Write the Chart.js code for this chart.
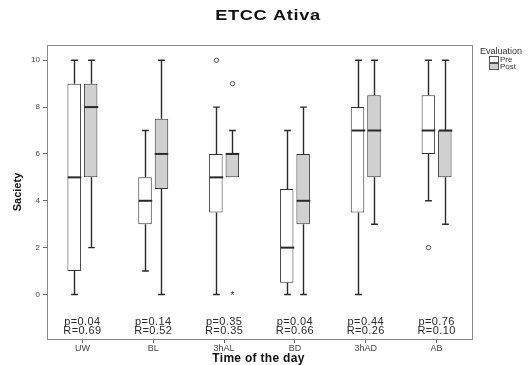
<!DOCTYPE html>
<html>
<head>
<meta charset="utf-8">
<script src="https://cdn.jsdelivr.net/npm/chart.js@4/dist/chart.umd.min.js"></script>
<style>
body{margin:0;background:#fff}
#wrap{width:528px;height:365px;position:relative}
</style>
</head>
<body>
<div id="wrap"><canvas id="myChart"></canvas></div>
<script>
var times=['UW','BL','3hAL','BD','3hAD','AB'];
// each box: [min, q1, median, q3, max]
var pre=[[0,1,5,9,10],[1,3,4,5,7],[0,3.5,5,6,8],[0,0.5,2,4.5,7],[0,3.5,7,8,10],[4,6,7,8.5,10]];
var post=[[2,5,8,9,10],[0,4.5,6,7.5,10],[5,5,6,6,7],[0,3,4,6,8],[3,5,7,8.5,10],[3,5,7,7,10]];
var preOut=[[],[],[10],[],[],[2]];
var postOut=[[],[],[9],[],[],[]];
var preExtreme=[[],[],[],[],[],[]];
var postExtreme=[[],[],[0],[],[],[]];
var pVal=['0.04','0.14','0.35','0.04','0.44','0.76'];
var rVal=['0.69','0.52','0.35','0.66','0.26','0.10'];
var yTicks=[0,2,4,6,8,10];

var FONT='"Liberation Sans", Arial, sans-serif';
var boxes=[pre,post];
var outs=[preOut,postOut];
var extremes=[preExtreme,postExtreme];

var boxPlot={
  id:'boxPlot',
  afterDatasetsDraw:function(chart){
    var ctx=chart.ctx, y=chart.scales.y, ca=chart.chartArea;
    ctx.save();
    for(var d=0;d<2;d++){
      var meta=chart.getDatasetMeta(d);
      for(var j=0;j<times.length;j++){
        var el=meta.data[j], b=boxes[d][j];
        var x=Math.round(el.x)+0.5, w=el.width;
        ctx.strokeStyle='#2a2a2a';
        ctx.lineWidth=1.4;
        ctx.beginPath();
        if(b[4]>b[3]){
          ctx.moveTo(x,y.getPixelForValue(b[3]));ctx.lineTo(x,y.getPixelForValue(b[4]));
          ctx.moveTo(x-w/4,y.getPixelForValue(b[4]));ctx.lineTo(x+w/4,y.getPixelForValue(b[4]));
        }
        if(b[0]<b[1]){
          ctx.moveTo(x,y.getPixelForValue(b[1]));ctx.lineTo(x,y.getPixelForValue(b[0]));
          ctx.moveTo(x-w/4,y.getPixelForValue(b[0]));ctx.lineTo(x+w/4,y.getPixelForValue(b[0]));
        }
        ctx.stroke();
        ctx.lineWidth=2;
        ctx.beginPath();
        ctx.moveTo(x-w/2,y.getPixelForValue(b[2]));ctx.lineTo(x+w/2,y.getPixelForValue(b[2]));
        ctx.stroke();
        ctx.lineWidth=1;
        ctx.strokeStyle='#555';
        outs[d][j].forEach(function(v){
          ctx.beginPath();ctx.arc(x,y.getPixelForValue(v),2.2,0,Math.PI*2);ctx.stroke();
        });
        ctx.fillStyle='#333';
        ctx.font='10px '+FONT;
        ctx.textAlign='center';ctx.textBaseline='middle';
        extremes[d][j].forEach(function(v){
          ctx.fillText('*',x,y.getPixelForValue(v)+2);
        });
      }
    }
    // p and R labels
    var xs=chart.scales.x;
    ctx.fillStyle='#2a2a2a';
    ctx.font='11px '+FONT;
    ctx.letterSpacing='0.4px';
    ctx.textAlign='center';ctx.textBaseline='middle';
    for(var k=0;k<times.length;k++){
      var cx=xs.getPixelForValue(k);
      ctx.fillText('p='+pVal[k],cx,322);
      ctx.fillText('R='+rVal[k],cx,331);
    }
    ctx.letterSpacing='0px';
    // frame
    ctx.strokeStyle='#888';ctx.lineWidth=1;
    ctx.strokeRect(Math.round(ca.left)+0.5,Math.round(ca.top)+0.5,Math.round(ca.right-ca.left),Math.round(ca.bottom-ca.top));
    // title, drawn wide like the original
    ctx.save();
    ctx.fillStyle='#111';
    ctx.font='bold 14px '+FONT;
    ctx.letterSpacing='0.5px';
    ctx.textAlign='center';
    ctx.translate(268,16);
    ctx.scale(1.3,1);
    ctx.fillText('ETCC Ativa',0,0);
    ctx.restore();
    ctx.letterSpacing='0.3px';
    ctx.fillStyle='#111';
    ctx.font='bold 12px '+FONT;
    ctx.fillText('Time of the day',(ca.left+ca.right)/2-1,359);
    ctx.letterSpacing='0px';
    // legend
    ctx.font='9px '+FONT;
    ctx.textAlign='left';
    ctx.fillStyle='#333';
    ctx.fillText('Evaluation',480,52);
    var cols=[chart.data.datasets[0].backgroundColor,chart.data.datasets[1].backgroundColor];
    for(var m=0;m<2;m++){
      var ly=56+m*7;
      ctx.fillStyle=cols[m];
      ctx.fillRect(489.5,ly+0.5,9,6);
      ctx.strokeStyle='#555';
      ctx.strokeRect(489.5,ly+0.5,9,6);
      ctx.fillStyle='#333';
      ctx.font='8px '+FONT;
      ctx.fillText(chart.data.datasets[m].label,500,ly+4);
    }
    ctx.restore();
  }
};

var ctx=document.getElementById('myChart').getContext('2d');
var chart=new Chart(ctx,{
  type:'bar',
  data:{
    labels:times,
    datasets:[{
      label:'Pre',
      data:pre.map(function(b){return [b[1],b[3]];}),
      backgroundColor:'#ffffff',
      borderColor:'#333',
      borderWidth:1,
      borderSkipped:false,
      categoryPercentage:0.465,
      barPercentage:0.82
    },{
      label:'Post',
      data:post.map(function(b){return [b[1],b[3]];}),
      backgroundColor:'#d0d0d0',
      borderColor:'#333',
      borderWidth:1,
      borderSkipped:false,
      categoryPercentage:0.465,
      barPercentage:0.82
    }]
  },
  options:{
    responsive:true,
    maintainAspectRatio:false,
    animation:false,
    layout:{padding:{left:0,right:56,top:45,bottom:0}},
    plugins:{legend:{display:false},tooltip:{enabled:false},title:{display:false}},
    scales:{
      x:{
        grid:{display:true,drawOnChartArea:false,drawTicks:true,tickLength:4,offset:false,color:'#666'},
        border:{display:true,color:'#888'},
        ticks:{font:{size:9,family:FONT},color:'#444',padding:0},
        afterFit:function(s){s.height=26;}
      },
      y:{
        min:-1.9,max:10.65,
        afterBuildTicks:function(s){s.ticks=yTicks.map(function(v){return {value:v};});},
        grid:{display:true,drawOnChartArea:false,drawTicks:true,tickLength:4,color:'#666'},
        border:{display:true,color:'#888'},
        ticks:{font:{size:8,family:FONT},color:'#444',padding:3},
        title:{display:true,text:'Saciety',font:{size:11,weight:'bold',family:FONT},color:'#111',padding:{top:11,bottom:0}},
        afterFit:function(s){s.width=47;}
      }
    }
  },
  plugins:[boxPlot]
});
</script>
</body>
</html>
